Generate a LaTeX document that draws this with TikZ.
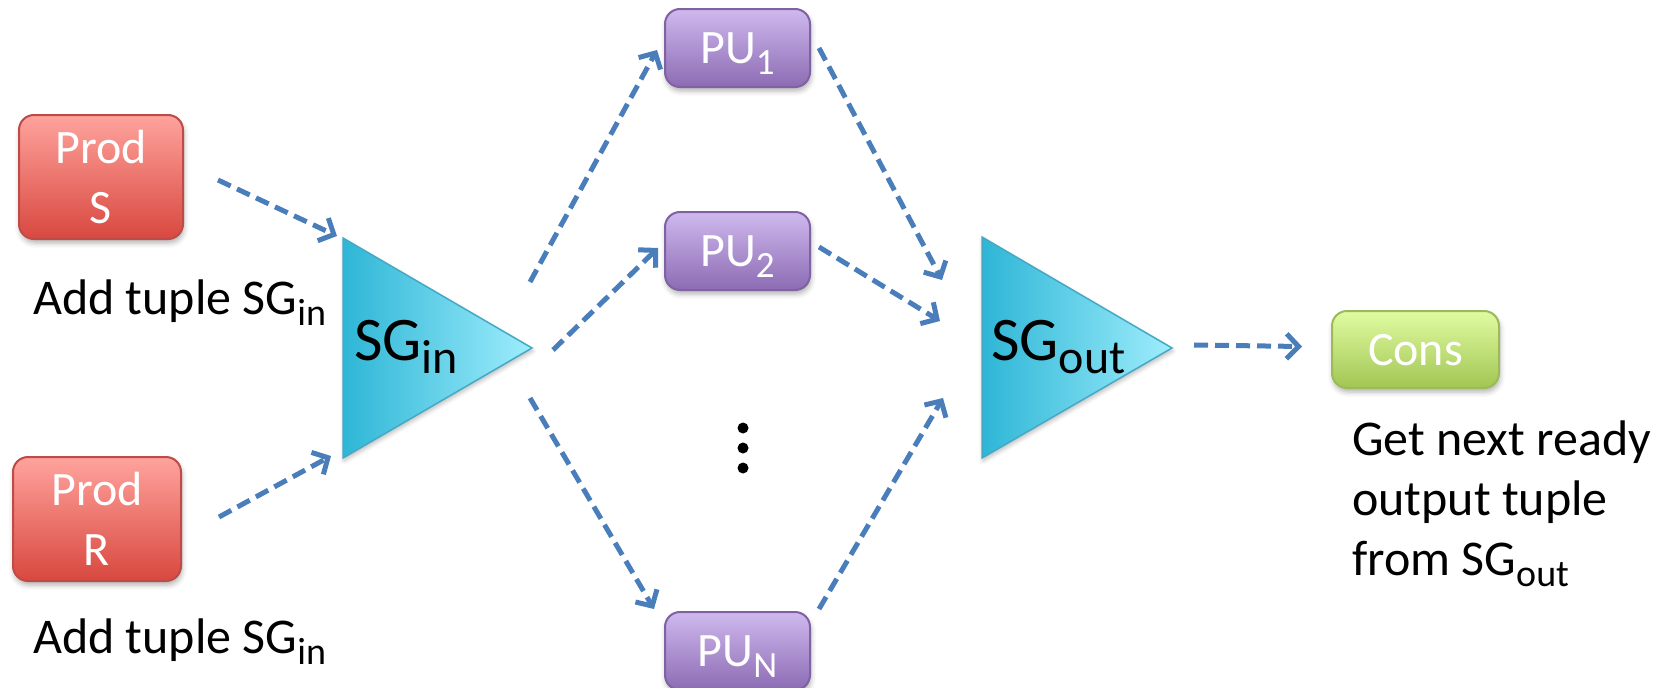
\documentclass[tikz,border=0pt]{standalone}
\usepackage{fontspec}
\setmainfont{Carlito}
\usetikzlibrary{arrows.meta,calc,shadows.blur}

\definecolor{flowblue}{HTML}{4A7EBB}
\definecolor{prodtop}{HTML}{FFA39D}
\definecolor{prodbot}{HTML}{D8483F}
\definecolor{prodline}{HTML}{BE4B48}
\definecolor{putop}{HTML}{CFB9EE}
\definecolor{pubot}{HTML}{8C6BB3}
\definecolor{puline}{HTML}{7F62A1}
\definecolor{constop}{HTML}{E0FCA2}
\definecolor{consbot}{HTML}{A2C553}
\definecolor{consline}{HTML}{9BBB59}
\definecolor{sgleft}{HTML}{2EB6D6}
\definecolor{sgright}{HTML}{9EEDFC}
\definecolor{sgline}{HTML}{45A8C4}

% lowered, smaller text for subscripts: size, text
\newcommand\subt[2]{\raisebox{-0.22em}{\fontsize{#1}{#1}\selectfont #2}}

\begin{document}
\begin{tikzpicture}[x=1pt,y=-1pt,
  flow/.style={draw=flowblue, line width=5pt, dash pattern=on 14pt off 7pt,
    -{Straight Barb[length=12pt,width=25pt]}},
  box/.style={rounded corners=15pt, line width=2pt, text=white, inner sep=0pt,
    align=center, font=\fontsize{48}{60}\selectfont,
    blur shadow={shadow xshift=1pt, shadow yshift=-4pt, shadow opacity=30, shadow blur radius=5pt}},
  prodbox/.style={box, draw=prodline, top color=prodtop, bottom color=prodbot,
    minimum width=164pt, minimum height=124pt},
  pubox/.style={box, draw=puline, top color=putop, bottom color=pubot,
    minimum width=145pt, minimum height=78pt, text height=31pt, text depth=0pt},
  consbox/.style={box, draw=consline, top color=constop, bottom color=consbot,
    minimum width=167pt, minimum height=77pt, text height=31pt, text depth=0pt},
  sgshape/.style={draw=sgline, line width=1.5pt, left color=sgleft, right color=sgright,
    blur shadow={shadow xshift=1pt, shadow yshift=-3pt, shadow opacity=25, shadow blur radius=4pt}},
  sglabel/.style={inner sep=0pt, font=\fontsize{62}{70}\selectfont},
  lbl/.style={inner sep=0pt, font=\fontsize{50}{60}\selectfont},
  dot/.style={circle, fill=black, inner sep=0pt, minimum size=11pt}
]
\useasboundingbox (0,0) rectangle (1660,688);

% producers, processing units, consumer
\node[prodbox] (prodS) at (101,177) {Prod\\S};
\node[prodbox, minimum width=168pt] (prodR) at (97,519) {Prod\\R};
\node[pubox] (pu1) at (737.5,48) {PU\subt{37}{1}};
\node[pubox] (pu2) at (737.5,251) {PU\subt{37}{2}};
\node[pubox] (puN) at (737.5,651) {PU\subt{37}{N}};
\node[consbox] (cons) at (1415.5,349.5) {Cons};

% input scatter/gather
\coordinate (sginTL) at (343,238);
\coordinate (sginBL) at (343,458);
\coordinate (sginTip) at (532,348);
\coordinate (sginL) at (343,348);
\path[sgshape] (sginTL) -- (sginTip) -- (sginBL) -- cycle;
\node[sglabel, anchor=base west] (sgin) at (354,360) {SG\subt{48}{in}};

% output scatter/gather
\coordinate (sgoutTL) at (982,237);
\coordinate (sgoutBL) at (982,458);
\coordinate (sgoutTip) at (1172,348);
\coordinate (sgoutL) at (982,348);
\path[sgshape] (sgoutTL) -- (sgoutTip) -- (sgoutBL) -- cycle;
\node[sglabel, anchor=base west] (sgout) at (991,360) {SG\subt{48}{out}};

% captions
\node[lbl, anchor=base west] (addS) at (33,314) {Add tuple SG\subt{38}{in}};
\node[lbl, anchor=base west] (addR) at (33,653) {Add tuple SG\subt{38}{in}};
\node[lbl, anchor=base west] (get1) at (1352,455) {Get next ready};
\node[lbl, anchor=base west] (get2) at ($(get1.base west)+(0,60)$) {output tuple};
\node[lbl, anchor=base west] (get3) at ($(get2.base west)+(0,60)$) {from SG\subt{38}{out}};

% vertical ellipsis between the processing units
\node[dot] (d1) at (743,428) {};
\node[dot] (d2) at (743,448) {};
\node[dot] (d3) at (743,468) {};

% data flow
\draw[flow] ($(prodS.east)+(34,3)$) -- ($(sginTL)+(-6,-2)$);
\draw[flow] ($(prodR.east)+(37,-2)$) -- ($(sginBL)+(-12,-2)$);
\draw[flow] ($(sginTip)+(-2,-66)$) -- ($(pu1.west)+(-7,2)$);
\draw[flow] ($(sginTip)+(21,2)$) -- ($(pu2.west)+(-6,-3)$);
\draw[flow] ($(sginTip)+(-2,50)$) -- ($(puN.north west)+(-10,-2)$);
\draw[flow] ($(pu1.east)+(8,0)$) -- ($(sgoutL)+(-40,-68)$);
\draw[flow] ($(pu2.east)+(8,-4)$) -- ($(sgoutL)+(-42,-27)$);
\draw[flow] ($(puN.north east)+(8,-2)$) -- ($(sgoutL)+(-39,50)$);
\draw[flow] ($(sgoutTip)+(22,-3)$) -- ($(cons.west)+(-29,-3)$);
\end{tikzpicture}
\end{document}
